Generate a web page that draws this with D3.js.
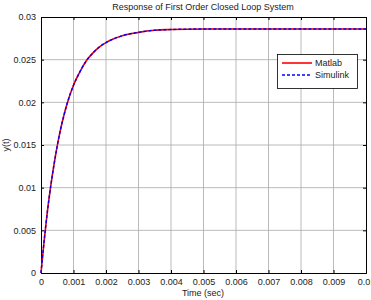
<!DOCTYPE html>
<html><head><meta charset="utf-8">
<script src="https://cdn.jsdelivr.net/npm/d3@7"></script>
<style>body{margin:0;background:#fff}svg{display:block;font-family:"Liberation Sans",Arial,sans-serif}</style>
</head><body><svg id="c" width="371" height="300"></svg>
<script>
const time = [0,0.0001,0.0002,0.0003,0.0004,0.0005,0.0006,0.0007,0.0008,0.001,0.0012,0.0014,0.0016,0.0018,0.002,0.0025,0.003,0.0035,0.004,0.005,0.006,0.007,0.008,0.009,0.01];
const matlab = [0,0.0039,0.0073,0.0102,0.0127,0.0149,0.0168,0.0184,0.0198,0.0220,0.0236,0.0249,0.0258,0.0265,0.0270,0.0278,0.0282,0.02845,0.02853,0.0286,0.0286,0.0286,0.0286,0.0286,0.0286];
const simulink = [0,0.0039,0.0073,0.0102,0.0127,0.0149,0.0168,0.0184,0.0198,0.0220,0.0236,0.0249,0.0258,0.0265,0.0270,0.0278,0.0282,0.02845,0.02853,0.0286,0.0286,0.0286,0.0286,0.0286,0.0286];
const xTicks = [0,0.001,0.002,0.003,0.004,0.005,0.006,0.007,0.008,0.009,0.01];
const yTicks = [0,0.005,0.01,0.015,0.02,0.025,0.03];
const xTickLabels = ["0","0.001","0.002","0.003","0.004","0.005","0.006","0.007","0.008","0.009","0.01"];
const yTickLabels = ["0","0.005","0.01","0.015","0.02","0.025","0.03"];
const seriesNames = ["Matlab","Simulink"];

const svg = d3.select("#c");
const L=41,R=366,T=17,B=273;
const x = d3.scaleLinear().domain([0,0.01]).range([L,R]);
const y = d3.scaleLinear().domain([0,0.03]).range([B,T]);

// grid
svg.append("g").selectAll("line").data(xTicks.slice(1,-1)).join("line")
  .attr("x1",d=>x(d)).attr("x2",d=>x(d)).attr("y1",T).attr("y2",B)
  .attr("stroke","#aaa").attr("stroke-width",0.8);
svg.append("g").selectAll("line").data(yTicks.slice(1,-1)).join("line")
  .attr("y1",d=>y(d)).attr("y2",d=>y(d)).attr("x1",L).attr("x2",R)
  .attr("stroke","#aaa").attr("stroke-width",0.8);

// axes
const xa = svg.append("g").attr("transform",`translate(0,${B})`)
  .call(d3.axisBottom(x).tickValues(xTicks).tickFormat((d,i)=>xTickLabels[i]).tickSize(-3).tickPadding(6));
const xt = svg.append("g").attr("transform",`translate(0,${T})`)
  .call(d3.axisTop(x).tickValues(xTicks).tickFormat("").tickSize(-3));
const ya = svg.append("g").attr("transform",`translate(${L},0)`)
  .call(d3.axisLeft(y).tickValues(yTicks).tickFormat((d,i)=>yTickLabels[i]).tickSize(-3).tickPadding(5));
const yr = svg.append("g").attr("transform",`translate(${R},0)`)
  .call(d3.axisRight(y).tickValues(yTicks).tickFormat("").tickSize(-3));
[xa,xt,ya,yr].forEach(g=>{
  g.selectAll(".domain").attr("stroke","#000").attr("stroke-width",1);
  g.selectAll(".tick line").attr("stroke","#000");
  g.selectAll("text").attr("font-size",9).attr("fill","#222").attr("font-family","Liberation Sans, Arial, sans-serif");
});

// lines
const line = d3.line().x((d,i)=>x(time[i])).y(d=>y(d)).curve(d3.curveMonotoneX);
svg.append("path").datum(matlab).attr("d",line).attr("fill","none").attr("stroke","#e00").attr("stroke-width",1.6);
svg.append("path").datum(simulink).attr("d",line).attr("fill","none").attr("stroke","#00f").attr("stroke-width",1.4).attr("stroke-dasharray","3,2");

// title and labels
svg.append("text").attr("x",203).attr("y",10).attr("text-anchor","middle").attr("font-size",9).attr("fill","#222").text("Response of First Order Closed Loop System");
svg.append("text").attr("x",203).attr("y",296).attr("text-anchor","middle").attr("font-size",9).attr("fill","#222").text("Time (sec)");
svg.append("text").attr("transform","translate(9,145) rotate(-90)").attr("text-anchor","middle").attr("font-size",9).attr("fill","#222").text("y(t)");

// legend
const lg = svg.append("g");
lg.append("rect").attr("x",277.5).attr("y",54.5).attr("width",80).attr("height",34).attr("fill","#fff").attr("stroke","#000").attr("stroke-width",0.8);
const colors=["#f00","#00f"], dashes=[null,"3,2"];
seriesNames.forEach((n,i)=>{
  const yy = 63 + i*12;
  lg.append("line").attr("x1",282).attr("x2",312).attr("y1",yy).attr("y2",yy).attr("stroke",colors[i]).attr("stroke-width",1.6).attr("stroke-dasharray",dashes[i]);
  lg.append("text").attr("x",315).attr("y",yy+3).attr("font-size",9).attr("fill","#222").text(n);
});
</script></body></html>
